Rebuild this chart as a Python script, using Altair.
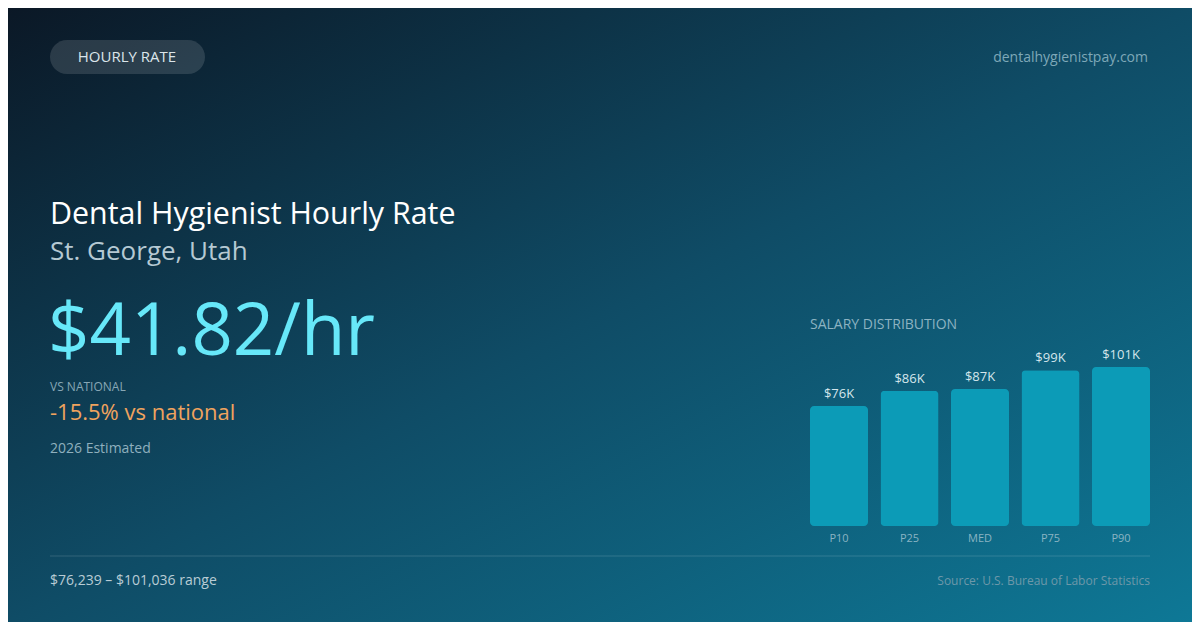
import altair as alt
import pandas as pd

# ---- data ----
percentiles = ["P10", "P25", "MED", "P75", "P90"]
salaries = [76239, 86000, 86986, 99000, 101036]
salary_labels = ["$76K", "$86K", "$87K", "$99K", "$101K"]

badge_text = "HOURLY RATE"
site_text = "dentalhygienistpay.com"
title_text = "Dental Hygienist Hourly Rate"
subtitle_text = "St. George, Utah"
rate_text = "$41.82/hr"
vs_label = "VS NATIONAL"
vs_text = "-15.5% vs national"
est_text = "2026 Estimated"
dist_title = "SALARY DISTRIBUTION"
range_text = "$76,239 – $101,036 range"
source_text = "Source: U.S. Bureau of Labor Statistics"

W, H = 1184, 614
FONT = "Open Sans"

df = pd.DataFrame({"pct": percentiles, "salary": salaries, "label": salary_labels})
one = pd.DataFrame({"a": [0]})

bg = alt.Chart(one).mark_rect(
    fill=alt.Gradient(
        gradient="linear",
        stops=[
            alt.GradientStop(color="#0b1826", offset=0),
            alt.GradientStop(color="#0f4c66", offset=0.5),
            alt.GradientStop(color="#0e7896", offset=1),
        ],
        x1=0, y1=0, x2=1, y2=1,
    )
).encode(x=alt.value(0), x2=alt.value(W), y=alt.value(0), y2=alt.value(H))

pill = alt.Chart(one).mark_rect(
    fill="#ffffff", fillOpacity=0.13, cornerRadius=17
).encode(x=alt.value(42), x2=alt.value(197), y=alt.value(32), y2=alt.value(66))


def txt(text, x, y, size, color, align="left", baseline="middle", weight="normal"):
    return alt.Chart(one).mark_text(
        text=text, align=align, baseline=baseline, fontSize=size,
        color=color, font=FONT, fontWeight=weight,
    ).encode(x=alt.value(x), y=alt.value(y))


texts = [
    txt(badge_text, 119, 49, 15, "#dbe5ea", align="center"),
    txt(site_text, 1140, 50, 14, "#7ea8b8", align="right"),
    txt(title_text, 42, 216, 30.4, "#ffffff", baseline="alphabetic"),
    txt(subtitle_text, 42, 252, 26, "#b5c9d3", baseline="alphabetic"),
    txt(rate_text, 40, 347, 72.5, "#67e8f9", baseline="alphabetic"),
    txt(vs_label, 42, 379, 12, "#87a7b5"),
    txt(vs_text, 42, 405, 22, "#f0a35e"),
    txt(est_text, 42, 441, 14, "#8fb0be"),
    txt(dist_title, 802, 317, 14, "#8db3c2"),
    txt(range_text, 42, 573, 14, "#b9ccd5"),
    txt(source_text, 1142, 573, 12, "#6d98a9", align="right"),
]

divider = alt.Chart(one).mark_rule(color="#ffffff", opacity=0.15, strokeWidth=1).encode(
    x=alt.value(42), x2=alt.value(1142), y=alt.value(548)
)

xs = alt.X("pct:N", sort=percentiles, axis=None,
           scale=alt.Scale(range=[802, 1142], paddingInner=0.177, paddingOuter=0))
ys = alt.Y("salary:Q", axis=None, scale=alt.Scale(domain=[0, 101036], range=[518, 359]))

bars = alt.Chart(df).mark_bar(color="#0c9bb7", cornerRadius=4).encode(x=xs, y=ys)

val_labels = alt.Chart(df).mark_text(
    baseline="alphabetic", dy=-8, fontSize=13, color="#d5e6ec", font=FONT
).encode(x=xs, y=ys, text="label:N")

cat_labels = alt.Chart(df).mark_text(
    baseline="middle", fontSize=11, color="#8ab4c3", font=FONT
).encode(x=xs, y=alt.value(531), text="pct:N")

chart = alt.layer(bg, pill, *texts, divider, bars, val_labels, cat_labels).properties(
    width=W, height=H, padding=0, autosize=alt.AutoSizeParams(type="none"),
    background="#0b1826",
).configure_view(stroke=None)

chart.save("out.html", embed_options={"renderer": "svg", "actions": False})
